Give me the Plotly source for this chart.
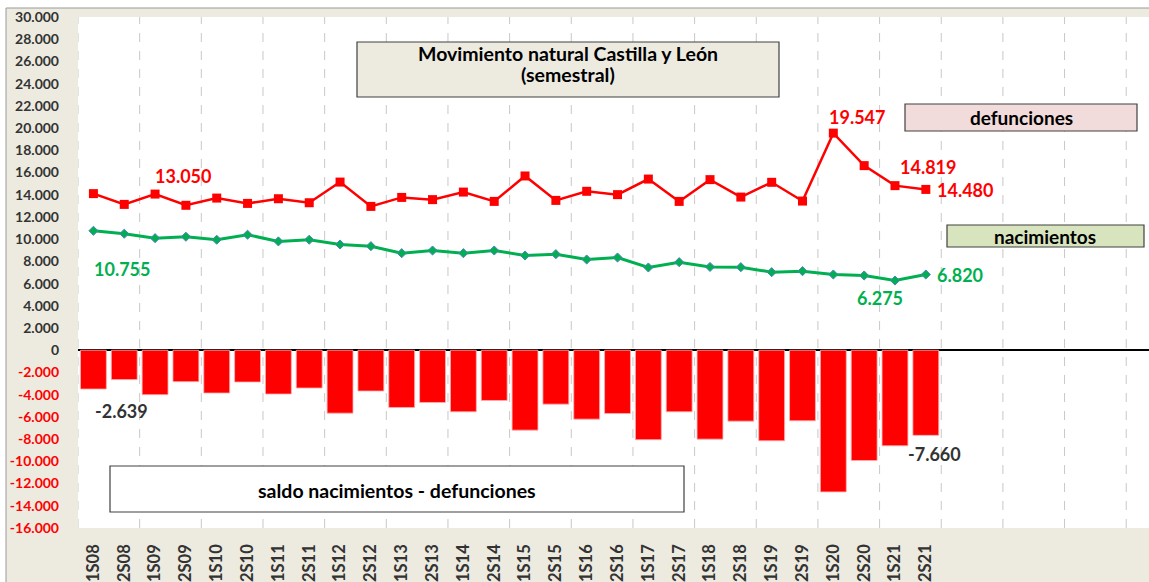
import plotly.graph_objects as go

categorias = ['1S08', '2S08', '1S09', '2S09', '1S10', '2S10', '1S11', '2S11', '1S12', '2S12',
              '1S13', '2S13', '1S14', '2S14', '1S15', '2S15', '1S16', '2S16', '1S17', '2S17',
              '1S18', '2S18', '1S19', '2S19', '1S20', '2S20', '1S21', '2S21']
defunciones = [14100, 13130, 14060, 13050, 13700, 13220, 13640, 13280, 15140, 12950,
               13760, 13560, 14240, 13400, 15690, 13490, 14310, 14010, 15410, 13400,
               15360, 13790, 15120, 13430, 19547, 16620, 14819, 14480]
nacimientos = [10755, 10490, 10090, 10220, 9950, 10400, 9800, 9950, 9520, 9370,
               8740, 8980, 8740, 8980, 8530, 8650, 8170, 8350, 7450, 7930,
               7500, 7480, 7030, 7120, 6820, 6730, 6275, 6820]
saldo = [-3490, -2639, -4000, -2830, -3850, -2860, -3940, -3400, -5660, -3670,
         -5150, -4700, -5540, -4520, -7190, -4850, -6200, -5690, -8050, -5540,
         -8000, -6380, -8150, -6350, -12750, -9930, -8600, -7660]
y_ticks = list(range(-16000, 30001, 2000))

FONT = "Lato"
RED = "#FF0000"
GREEN = "#00B050"
DARK = "#333333"

W, H = 1149, 582
L, R, T, B = 78, 0, 17, 54
PW, PH = W - L - R, H - T - B


def px(x):
    return (x - L) / PW


def py(y):
    return (H - B - y) / PH


def fmt(v):
    s = f"{abs(v):,}".replace(",", ".")
    return ("-" if v < 0 else "") + s


x_idx = list(range(len(categorias)))

fig = go.Figure()
fig.add_trace(go.Bar(
    x=x_idx, y=saldo, marker=dict(color=RED, line=dict(color="#FFB0B0", width=0.8)),
    width=0.84, name="saldo", hoverinfo="skip"))
fig.add_trace(go.Scatter(
    x=x_idx, y=defunciones, mode="lines+markers", name="defunciones",
    line=dict(color=RED, width=2.5),
    marker=dict(symbol="square", size=9, color=RED)))
fig.add_trace(go.Scatter(
    x=x_idx, y=nacimientos, mode="lines+markers", name="nacimientos",
    line=dict(color=GREEN, width=3),
    marker=dict(symbol="diamond", size=7, color=GREEN, line=dict(color="#4F81BD", width=1))))

ytext = [(f"<span style='color:{RED}'><b>{fmt(v)}</b></span>" if v < 0 else f"<b>{fmt(v)}</b>") for v in y_ticks]
xtext = [f"<b>{c}</b>" for c in categorias]

shapes = []
# vertical dashed grid lines at every second category boundary
b = -0.5
while b < 35:
    shapes.append(dict(type="line", xref="x", yref="paper", x0=b, x1=b, y0=0, y1=1,
                       line=dict(color="#C8C8C8", width=1, dash="dash"), layer="below"))
    b += 2

# outer white margins and chart-area border
shapes.append(dict(type="rect", xref="paper", yref="paper", x0=px(-5), x1=px(6), y0=py(H + 5), y1=py(-5),
                   fillcolor="white", line=dict(width=0), layer="below"))
shapes.append(dict(type="rect", xref="paper", yref="paper", x0=px(-5), x1=px(W + 5), y0=py(8), y1=py(-5),
                   fillcolor="white", line=dict(width=0), layer="below"))
shapes.append(dict(type="line", xref="paper", yref="paper", x0=px(6), x1=px(6), y0=py(8), y1=py(H + 5),
                   line=dict(color="#9A9A9A", width=1), layer="below"))
shapes.append(dict(type="line", xref="paper", yref="paper", x0=px(6), x1=px(W + 5), y0=py(8), y1=py(8),
                   line=dict(color="#9A9A9A", width=1), layer="below"))

# text boxes
boxes = [
    (357, 779, 42, 97, "#EDEBE0"),
    (905, 1137, 104, 131, "#F2DCDB"),
    (947, 1144, 225, 247, "#D7E4BD"),
    (110, 684, 466, 512, "#FFFFFF"),
]
for x0, x1, y0, y1, fc in boxes:
    shapes.append(dict(type="rect", xref="paper", yref="paper", x0=px(x0), x1=px(x1), y0=py(y1), y1=py(y0),
                       fillcolor=fc, line=dict(color="#404040", width=1.2)))

annotations = []
box_texts = [
    (568, 53, "Movimiento natural Castilla y León", 19.5),
    (568, 74, "(semestral)", 19.5),
    (1021, 117.5, "defunciones", 19),
    (1045, 236, "nacimientos", 19),
    (397, 490, "saldo nacimientos - defunciones", 19.5),
]
for cx, cy, t, fs in box_texts:
    annotations.append(dict(xref="paper", yref="paper", x=px(cx), y=py(cy), text=f"<b>{t}</b>",
                            showarrow=False, font=dict(family=FONT, size=fs, color="black"),
                            xanchor="center", yanchor="middle"))

value_labels = [
    (183, 176, defunciones[3], RED),
    (122, 269, nacimientos[0], GREEN),
    (857, 117, defunciones[24], RED),
    (928, 167, defunciones[26], RED),
    (965, 190, defunciones[27], RED),
    (960, 275, nacimientos[27], GREEN),
    (880, 298, nacimientos[26], GREEN),
    (121, 411, saldo[1], DARK),
    (934, 454, saldo[27], DARK),
]
for cx, cy, v, c in value_labels:
    annotations.append(dict(xref="paper", yref="paper", x=px(cx), y=py(cy), text=f"<b>{fmt(v)}</b>",
                            showarrow=False, font=dict(family=FONT, size=18, color=c),
                            xanchor="center", yanchor="middle"))

fig.update_layout(
    width=W, height=H, margin=dict(l=L, r=R, t=T, b=B, pad=0),
    paper_bgcolor="#EDEBE0", plot_bgcolor="white",
    showlegend=False, bargap=0.16,
    font=dict(family=FONT, color=DARK),
    shapes=shapes, annotations=annotations,
    xaxis=dict(range=[-0.5, -0.5 + PW / 30.83], tickmode="array", tickvals=x_idx, ticktext=xtext,
               tickangle=-90, showgrid=False, zeroline=False, showline=False, ticks="",
               tickfont=dict(family=FONT, size=16.5, color=DARK, weight="bold"), ticklabelstandoff=12,
               automargin=False, fixedrange=True),
    yaxis=dict(range=[-16000, 30000], tickmode="array", tickvals=y_ticks, ticktext=ytext,
               showgrid=False, zeroline=True, zerolinecolor="black", zerolinewidth=2,
               showline=False, ticks="", tickfont=dict(family=FONT, size=14, color=DARK, weight="bold"),
               ticklabelstandoff=18, automargin=False),
)

fig.write_html("out.html", config={"displayModeBar": False},
               post_script="document.body.style.margin='0px';document.body.style.overflow='hidden';")
